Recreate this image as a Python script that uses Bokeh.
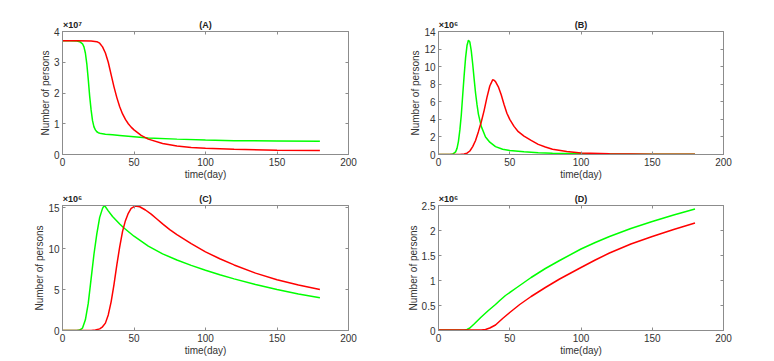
from bokeh.plotting import figure
from bokeh.layouts import column, row
from bokeh.models import Range1d, FixedTicker, LinearAxis, NoOverlap
from bokeh.embed import file_html
from bokeh.resources import INLINE

# ---------------- data (values in displayed units: A x1e7, B/C/D x1e6) ----------------
x_ticks = [0, 50, 100, 150, 200]

# Panel A
a_green_day = [0, 5, 10, 12, 14, 15, 16, 17, 18, 19, 20, 21, 22, 23, 24, 25, 27, 30, 35, 40, 50, 60, 80, 100, 120, 150, 180]
a_green_val = [3.7, 3.7, 3.69, 3.67, 3.6, 3.5, 3.3, 2.95, 2.45, 1.9, 1.45, 1.1, 0.9, 0.8, 0.74, 0.71, 0.68, 0.66, 0.64, 0.62, 0.58, 0.54, 0.5, 0.47, 0.45, 0.44, 0.43]
a_red_day = [0, 10, 20, 24, 26, 28, 30, 32, 34, 36, 38, 40, 42, 44, 46, 48, 50, 55, 60, 70, 80, 90, 100, 120, 150, 180]
a_red_val = [3.7, 3.7, 3.69, 3.67, 3.62, 3.5, 3.3, 3.0, 2.6, 2.2, 1.85, 1.55, 1.32, 1.14, 1.0, 0.89, 0.8, 0.62, 0.5, 0.36, 0.28, 0.23, 0.2, 0.17, 0.14, 0.13]

# Panel B
b_green_day = [0, 8, 10, 12, 13, 14, 15, 16, 17, 18, 19, 20, 21, 22, 23, 24, 25, 26, 27, 28, 30, 33, 36, 40, 45, 50, 60, 70, 80, 100, 120, 150, 180]
b_green_val = [0, 0, 0.05, 0.3, 0.7, 1.5, 2.8, 4.5, 6.8, 9.0, 11.0, 12.4, 13.0, 12.8, 11.8, 10.3, 8.6, 7.0, 5.7, 4.6, 3.2, 2.0, 1.4, 0.9, 0.6, 0.45, 0.3, 0.2, 0.15, 0.1, 0.07, 0.04, 0.03]
b_red_day = [0, 15, 18, 20, 22, 24, 26, 28, 30, 32, 34, 36, 38, 39, 40, 42, 44, 46, 48, 50, 53, 56, 60, 65, 70, 75, 80, 90, 100, 120, 150, 180]
b_red_val = [0, 0, 0.05, 0.15, 0.4, 0.9, 1.6, 2.6, 3.7, 5.0, 6.5, 7.8, 8.5, 8.45, 8.3, 7.7, 6.8, 5.7, 4.7, 4.0, 3.2, 2.6, 2.1, 1.6, 1.15, 0.85, 0.6, 0.33, 0.18, 0.08, 0.04, 0.02]

# Panel C
c_green_day = [0, 10, 12, 14, 16, 18, 20, 22, 24, 26, 28, 29, 30, 32, 35, 40, 43, 50, 60, 70, 80, 90, 100, 110, 120, 135, 150, 165, 180]
c_green_val = [0, 0, 0.05, 0.3, 1.3, 3.3, 6.3, 9.3, 11.8, 13.8, 14.9, 15.2, 15.1, 14.6, 13.9, 13.0, 12.5, 11.5, 10.3, 9.35, 8.6, 7.95, 7.35, 6.8, 6.3, 5.6, 5.0, 4.45, 4.0]
c_red_day = [0, 20, 23, 26, 28, 30, 32, 34, 36, 38, 40, 42, 44, 46, 48, 51, 54, 58, 62, 66, 70, 75, 80, 90, 100, 110, 120, 135, 150, 165, 180]
c_red_val = [0, 0, 0.05, 0.2, 0.45, 0.9, 1.9, 3.5, 5.6, 8.0, 10.2, 12.1, 13.4, 14.3, 14.9, 15.2, 15.1, 14.7, 14.2, 13.6, 13.0, 12.3, 11.7, 10.6, 9.6, 8.75, 8.0, 7.0, 6.2, 5.55, 5.0]

# Panel D
d_green_day = [0, 18, 20, 22, 25, 30, 35, 40, 43, 47, 55, 65, 75, 85, 100, 110, 120, 135, 150, 165, 180]
d_green_val = [0.01, 0.01, 0.02, 0.05, 0.13, 0.27, 0.4, 0.52, 0.6, 0.7, 0.86, 1.06, 1.24, 1.4, 1.63, 1.76, 1.88, 2.04, 2.18, 2.31, 2.43]
d_red_day = [0, 30, 33, 36, 40, 45, 50, 57, 65, 75, 85, 100, 110, 120, 135, 150, 165, 180]
d_red_val = [0.01, 0.01, 0.02, 0.05, 0.11, 0.24, 0.36, 0.52, 0.68, 0.86, 1.03, 1.26, 1.41, 1.55, 1.73, 1.88, 2.02, 2.15]

a_yticks = [0, 1, 2, 3, 4]
b_yticks = [0, 2, 4, 6, 8, 10, 12, 14]
c_yticks = [0, 5, 10, 15]
d_yticks = [0, 0.5, 1, 1.5, 2, 2.5]

titles = ["(A)", "(B)", "(C)", "(D)"]
exponents = ["×10⁷", "×10⁶", "×10⁶", "×10⁶"]

FONT = "Liberation Sans"
FRAME = "#8c8c8c"
TXT = "#333333"
GREEN = "#00ff00"
RED = "#ff0000"
PAD = "\u00a0" * 8


def fmt(v):
    return str(int(v)) if float(v).is_integer() else str(v)


def style_axis(ax, ticks):
    ax.ticker = FixedTicker(ticks=ticks)
    ax.major_tick_in = 3
    ax.major_tick_out = 0
    ax.minor_tick_line_color = None
    ax.axis_line_color = FRAME
    ax.major_tick_line_color = FRAME
    ax.major_label_text_font = FONT
    ax.major_label_text_font_size = "10px"
    ax.major_label_text_color = TXT
    ax.major_label_standoff = 3
    ax.axis_label_text_font = FONT
    ax.axis_label_text_font_size = "10px"
    ax.axis_label_text_font_style = "normal"
    ax.axis_label_text_color = TXT
    ax.axis_label_standoff = 0
    ax.major_label_overrides = {t: fmt(t) for t in ticks}


def make_fig(title, exp, gday, gval, rday, rval, ymax, yticks, fw, fh, bl, br, bt, bb):
    p = figure(frame_width=fw, frame_height=fh,
               x_range=Range1d(0, 200), y_range=Range1d(0, ymax),
               output_backend="svg", toolbar_location=None,
               min_border_left=bl, min_border_right=br,
               min_border_top=bt, min_border_bottom=bb)
    p.grid.visible = False
    p.outline_line_color = FRAME
    p.outline_line_width = 1
    p.xaxis.axis_label = "time(day)"
    p.yaxis.axis_label = "Number of persons"
    style_axis(p.xaxis[0], x_ticks)
    style_axis(p.yaxis[0], yticks)

    # top axis: inward ticks + exponent label (at x=0) + panel title (at x=100)
    top = LinearAxis()
    style_axis(top, [0, 100, 50, 150])
    top.major_label_policy = NoOverlap(min_distance=90)
    top.major_label_overrides = {0: PAD + exp, 100: title}
    top.major_label_text_font_size = "9px"
    top.major_label_text_font_style = "bold"
    top.major_label_text_color = "#222222"
    top.major_label_standoff = 2
    p.add_layout(top, "above")

    rgt = LinearAxis()
    style_axis(rgt, yticks)
    rgt.major_label_policy = NoOverlap(min_distance=10000)
    rgt.major_label_overrides = {yticks[0]: ""}
    p.add_layout(rgt, "right")

    p.line(gday, gval, line_color=GREEN, line_width=1.5)
    p.line(rday, rval, line_color=RED, line_width=1.5)
    return p


pa = make_fig(titles[0], exponents[0], a_green_day, a_green_val, a_red_day, a_red_val, 4, a_yticks,
              286, 123, 62, 39, 31, 26)
pb = make_fig(titles[1], exponents[1], b_green_day, b_green_val, b_red_day, b_red_val, 14, b_yticks,
              285, 123, 51, 43, 31, 26)
pc = make_fig(titles[2], exponents[2], c_green_day, c_green_val, c_red_day, c_red_val, 15.25, c_yticks,
              286, 125, 62, 39, 23, 25)
pd = make_fig(titles[3], exponents[3], d_green_day, d_green_val, d_red_day, d_red_val, 2.5, d_yticks,
              285, 125, 51, 43, 23, 25)

layout = column(row(pa, pb), row(pc, pd))
open("out.html", "w").write(file_html(layout, INLINE))
